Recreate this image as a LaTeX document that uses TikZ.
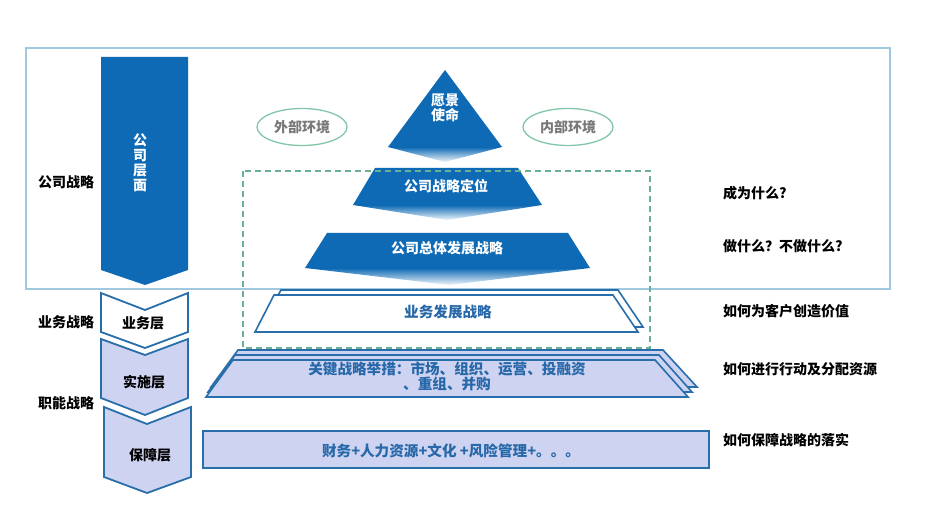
\documentclass[tikz,border=0pt]{standalone}
\usepackage{fontspec}
\setmainfont{Noto Sans CJK SC}
\usetikzlibrary{shapes.geometric}
\definecolor{mainblue}{RGB}{14,106,180}
\definecolor{lineblue}{RGB}{40,110,170}
\definecolor{txtblue}{RGB}{38,104,168}
\definecolor{lav}{RGB}{207,211,242}
\definecolor{frameblue}{RGB}{160,200,222}
\definecolor{dashgreen}{RGB}{106,176,150}
\definecolor{ellgreen}{RGB}{130,198,168}
\definecolor{graytxt}{RGB}{120,120,120}
\begin{document}
\begin{tikzpicture}[x=1pt,y=-1pt,
  lbl/.style={font=\bfseries\fontsize{14}{16}\selectfont, text=black, inner sep=0pt},
  wlbl/.style={font=\bfseries\fontsize{14}{15}\selectfont, text=white, inner sep=0pt, align=center},
  blbl/.style={font=\bfseries\fontsize{14.6}{15.5}\selectfont, text=txtblue, inner sep=0pt, align=center},
  chev/.style={draw=lineblue, line width=1.8pt, line join=miter},
  trap/.style={draw=lineblue, line width=1.6pt},
  ell/.style={ellipse, draw=ellgreen, line width=1.3pt, minimum width=90pt, minimum height=37pt, inner sep=0pt, font=\bfseries\fontsize{14}{16}\selectfont, text=graytxt},
  fade/.style={top color=mainblue, bottom color=mainblue!6}
]
\useasboundingbox (0,0) rectangle (944,518);
\fill[white] (0,0) rectangle (944,518);

% outer frame
\draw[frameblue, line width=1.6pt] (26,48) rectangle (890,289);

% big arrow
\fill[mainblue] (101,57) -- (188,57) -- (188,270) -- (145,285) -- (101,270) -- cycle;
\node[wlbl] (gsc) at (140,163) {公\\司\\层\\面};

% chevrons
\draw[chev, fill=white] (101,293) -- (145,310) -- (188,293) -- (188,332) -- (145,348) -- (101,332) -- cycle;
\draw[chev, fill=lav] (101,339) -- (145,355) -- (188,339) -- (188,398) -- (145,415) -- (101,398) -- cycle;
\draw[chev, fill=lav] (104,407) -- (147,424) -- (191,407) -- (191,477) -- (147,493) -- (104,477) -- cycle;
\node[lbl] (ywc) at (143,323) {业务层};
\node[lbl] (ssc) at (144,382) {实施层};
\node[lbl] (bzc) at (150,455) {保障层};

% left labels
\node[lbl] (gszl) at (66,182) {公司战略};
\node[lbl] (ywzl) at (66,322) {业务战略};
\node[lbl] (znzl) at (66,403) {职能战略};

% pyramid
\fill[mainblue] (445,70) -- (502,147) -- (388,147) -- cycle;
\shade[fade] (388,147) -- (502,147) -- (445,162) -- cycle;
\node[wlbl] (yj) at (445,108) {愿景\\使命};

\fill[mainblue] (375,168) -- (518,168) -- (542,205) -- (353,205) -- cycle;
\shade[fade] (353,205) -- (542,205) -- (447,220) -- cycle;
\node[wlbl] (gsdw) at (446,186) {公司战略定位};

\fill[mainblue] (327,233) -- (568,233) -- (590,268) -- (305,268) -- cycle;
\shade[fade] (305,268) -- (590,268) -- (449,285) -- cycle;
\node[wlbl] (gszt) at (447,248) {公司总体发展战略};

\draw[frameblue, line width=1.6pt] (305,289) -- (600,289);

% ellipses
\node[ell] (wb) at (302,127) {外部环境};
\node[ell] (nb) at (568,127) {内部环境};

% business strategy stack
\draw[trap, fill=white] (281,290) -- (618,290) -- (643,327) -- (260,327) -- cycle;
\draw[trap, fill=white] (274,295) -- (613,295) -- (638,332) -- (255,332) -- cycle;
\node[blbl] (ywfz) at (448,312) {业务发展战略};

% dashed frame
\draw[dashgreen, line width=1.3pt, dash pattern=on 6pt off 4pt] (243,171) rectangle (650,348);

% key measures stack
\draw[trap, fill=lav] (238,350) -- (663,350) -- (697,387) -- (211,387) -- cycle;
\draw[trap, fill=lav] (235,355) -- (659,355) -- (692,392) -- (208,392) -- cycle;
\draw[trap, fill=lav] (233,360) -- (655,360) -- (688,397) -- (206,397) -- cycle;
\node[blbl] (gjzl) at (447,376.5) {关键战略举措：市场、组织、运营、投融资\\、重组、并购};

% support rectangle
\draw[trap, fill=lav, line width=1.8pt] (203,431) rectangle (709,468);
\node[blbl] (cw) at (451,451) {财务+人力资源+文化 +风险管理+。。。};

% right questions
\node[lbl, anchor=west] (q1) at (723,193) {成为什么?};
\node[lbl, anchor=west] (q2) at (723,246) {做什么？不做什么?};
\node[lbl, anchor=west] (q3) at (723,311) {如何为客户创造价值};
\node[lbl, anchor=west] (q4) at (723,369) {如何进行行动及分配资源};
\node[lbl, anchor=west] (q5) at (723,440) {如何保障战略的落实};
\end{tikzpicture}
\end{document}
